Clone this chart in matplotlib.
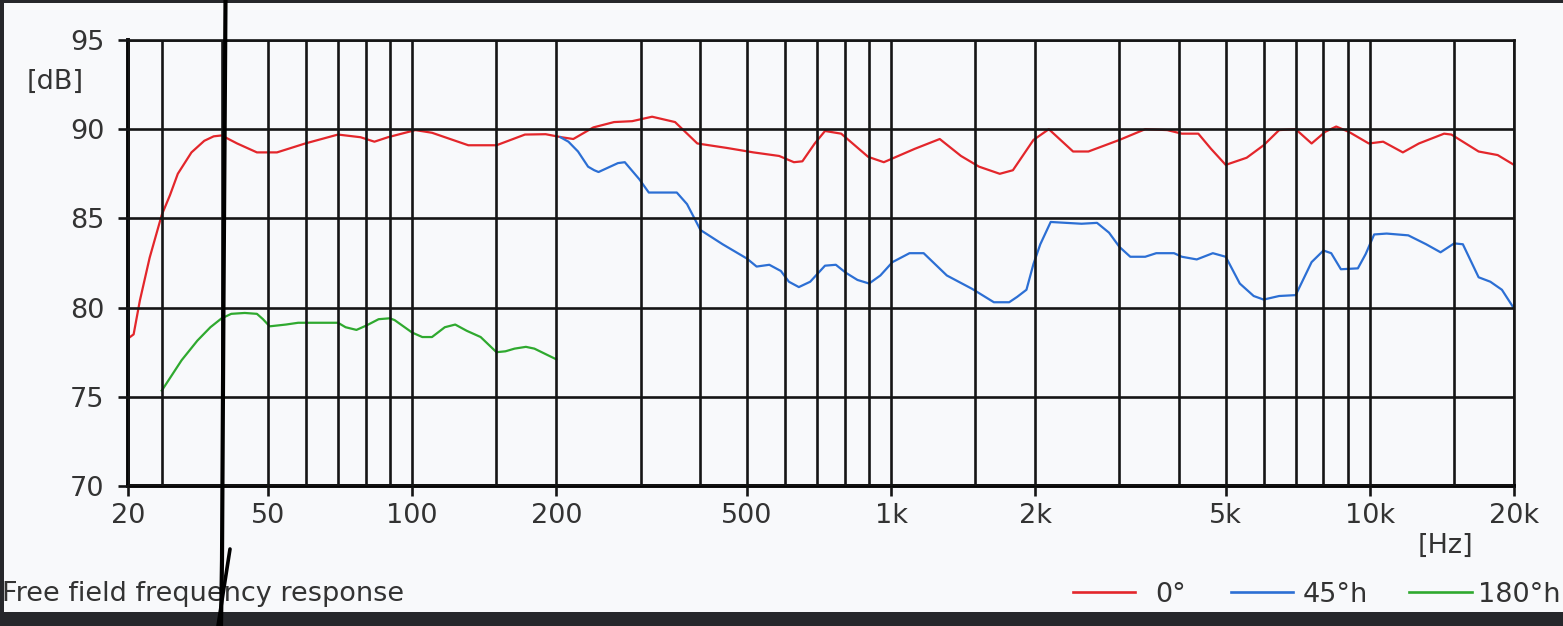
import matplotlib
matplotlib.use("Agg")
import matplotlib.pyplot as plt
from matplotlib.lines import Line2D
from matplotlib.patches import Rectangle
from matplotlib.ticker import FixedLocator, FixedFormatter, NullFormatter

W, H = 1563, 626

# 0°
f_0 = [25.6, 26.2, 27.0, 28.3, 30, 31.2, 32.4, 34.6, 36.8, 38.5, 40, 43.1, 47.4, 52.2, 59.8,
       70, 78, 83.4, 89, 101.6, 110, 131, 150, 172, 190, 205, 217, 239, 264, 288, 317, 354,
       394, 454, 516, 584, 627, 653, 693, 728, 787, 896, 966, 1121, 1264, 1400, 1527, 1687,
       1797, 1984, 2136, 2400, 2584, 3000, 3395, 3776, 4049, 4383, 4659, 5000, 5530, 6000,
       6464, 7000, 7557, 8065, 8506, 9040, 9950, 10660, 11720, 12660, 14290, 14800, 16870,
       18490, 20000]
db_0 = [78.3, 78.5, 80.4, 82.8, 85.2, 86.3, 87.5, 88.7, 89.35, 89.6, 89.65, 89.2, 88.7, 88.7, 89.2,
        89.7, 89.55, 89.3, 89.55, 89.95, 89.8, 89.1, 89.1, 89.7, 89.72, 89.55, 89.45, 90.1, 90.4,
        90.45, 90.7, 90.4, 89.2, 88.95, 88.7, 88.5, 88.15, 88.2, 89.2, 89.9, 89.75, 88.45, 88.15,
        88.9, 89.45, 88.5, 87.9, 87.5, 87.7, 89.4, 90.0, 88.75, 88.75, 89.4, 90.0, 89.95, 89.75,
        89.75, 88.9, 88.0, 88.4, 89.1, 89.95, 90.0, 89.2, 89.85, 90.15, 89.85, 89.2, 89.3, 88.7,
        89.2, 89.75, 89.7, 88.75, 88.55, 88.0]

# 45°h
f_45 = [204, 212, 222, 233, 240, 245, 269, 278, 298, 312, 357, 375, 400, 445, 500, 524, 557,
        589, 612, 642, 678, 728, 767, 805, 851, 900, 950, 1007, 1093, 1170, 1308, 1477, 1640,
        1765, 1834, 1918, 1984, 2050, 2155, 2321, 2500, 2693, 2853, 3000, 3160, 3395, 3580,
        3900, 4049, 4350, 4700, 5000, 5350, 5720, 6000, 6464, 7000, 7557, 8000, 8304, 8700,
        9440, 9800, 10210, 10840, 12030, 13110, 14050, 15000, 15640, 16870, 17850, 18870, 20000]
db_45 = [89.55, 89.3, 88.75, 87.9, 87.7, 87.6, 88.1, 88.15, 87.2, 86.45, 86.45, 85.8, 84.35,
         83.55, 82.75, 82.3, 82.4, 82.05, 81.45, 81.15, 81.45, 82.35, 82.4, 81.95, 81.55, 81.35,
         81.8, 82.55, 83.05, 83.05, 81.8, 81.05, 80.3, 80.3, 80.6, 81.0, 82.45, 83.55, 84.8,
         84.75, 84.7, 84.75, 84.2, 83.4, 82.85, 82.85, 83.05, 83.05, 82.85, 82.7, 83.05, 82.85,
         81.35, 80.65, 80.45, 80.65, 80.7, 82.55, 83.2, 83.05, 82.15, 82.2, 83.0, 84.1, 84.15,
         84.05, 83.55, 83.1, 83.6, 83.55, 81.7, 81.45, 81.0, 79.95]

# 180°h
f_180 = [30, 33.0, 35.6, 37.9, 40, 41.9, 44.7, 47.4, 48.8, 50.4, 54.5, 57.8, 70, 72.6, 76.5,
         80.3, 85.1, 89.8, 91.9, 100, 105, 110, 117, 123, 130, 139, 150, 156.6, 163.6, 172.8,
         180, 200]
db_180 = [75.35, 77.05, 78.15, 78.9, 79.4, 79.65, 79.7, 79.65, 79.35, 78.95, 79.05, 79.15, 79.15,
          78.9, 78.75, 79.0, 79.35, 79.4, 79.3, 78.6, 78.35, 78.35, 78.9, 79.05, 78.7, 78.35,
          77.5, 77.55, 77.7, 77.8, 77.7, 77.1]

labels = ["0°", "45°h", "180°h"]
colors = ["#e3262b", "#2c6fd4", "#2fa92f"]

# the scale of the source starts a bit above 20 Hz, its first label still says "20"
x_min, x_max = 25.5, 20000
x_major = [x_min, 50, 100, 200, 500, 1000, 2000, 5000, 10000, 20000]
x_major_lbl = ["20", "50", "100", "200", "500", "1k", "2k", "5k", "10k", "20k"]
x_minor = [30, 40, 60, 70, 80, 90, 150, 300, 400, 600, 700, 800, 900, 1500,
           3000, 4000, 6000, 7000, 8000, 9000, 15000]
y_ticks = [70, 75, 80, 85, 90, 95]

bg = "#f8f9fb"
txt = "#333333"
fs = 19.5


def fx(x):
    return x / W


def fy(y):
    return 1 - y / H


fig = plt.figure(figsize=(W / 100, H / 100), dpi=100, facecolor="#26272b")
# light screenshot area inside the dark frame
fig.add_artist(Rectangle((fx(4), fy(612)), fx(W - 4), 1 - fy(612) - 3 / H,
                         transform=fig.transFigure, facecolor=bg, edgecolor="none", zorder=0))

ax = fig.add_axes([fx(128), fy(486), fx(1514 - 128), fy(40) - fy(486)])
ax.set_facecolor(bg)

for f, d, c in zip([f_0, f_45, f_180], [db_0, db_45, db_180], colors):
    ax.plot(f, d, color=c, lw=1.6, zorder=2)

ax.set_xscale("log")
ax.set_xlim(x_min, x_max)
ax.set_ylim(70, 95)
ax.xaxis.set_major_locator(FixedLocator(x_major))
ax.xaxis.set_major_formatter(FixedFormatter(x_major_lbl))
ax.xaxis.set_minor_locator(FixedLocator(x_minor))
ax.xaxis.set_minor_formatter(NullFormatter())
ax.set_yticks(y_ticks)
ax.set_yticklabels([str(v) for v in y_ticks])

ax.set_axisbelow(False)
ax.grid(True, which="both", color="#151515", lw=1.9)
ax.tick_params(axis="x", which="major", length=7, width=1.9, color="#151515", pad=5,
               labelsize=fs, labelcolor=txt)
ax.tick_params(axis="x", which="minor", length=0)
ax.tick_params(axis="y", length=7, width=1.9, color="#151515", pad=10,
               labelsize=fs, labelcolor=txt)

for side in ["top", "right"]:
    ax.spines[side].set_color("#151515")
    ax.spines[side].set_linewidth(1.9)
for side in ["left", "bottom"]:
    ax.spines[side].set_color("#050505")
    ax.spines[side].set_linewidth(2.8)

fig.text(fx(55), fy(82), "[dB]", fontsize=fs, color=txt, ha="center", va="center")
fig.text(fx(1445), fy(546), "[Hz]", fontsize=fs, color=txt, ha="center", va="center")
fig.text(fx(2), fy(601), "Free field frequency response", fontsize=fs, color=txt,
         ha="left", va="baseline")

# legend along the bottom edge
leg_x = [(1073, 1135, 1155), (1231, 1293, 1303), (1409, 1472, 1478)]
for (x0, x1, xt), lab, c in zip(leg_x, labels, colors):
    fig.add_artist(Line2D([fx(x0), fx(x1)], [fy(592), fy(592)], color=c, lw=1.9,
                          transform=fig.transFigure))
    fig.text(fx(xt), fy(602), lab, fontsize=fs, color=txt, ha="left", va="baseline")

# hand drawn pen marks on the screenshot
fig.add_artist(Line2D([fx(225.5), fx(223.5), fx(222), fx(221)], [fy(0), fy(300), fy(560), fy(626)],
                      color="black", lw=3.0, transform=fig.transFigure, zorder=10,
                      solid_capstyle="round"))
fig.add_artist(Line2D([fx(230), fx(218)], [fy(549), fy(626)],
                      color="black", lw=2.6, transform=fig.transFigure, zorder=10,
                      solid_capstyle="round"))

fig.savefig("out.png", dpi=100, facecolor=fig.get_facecolor())
